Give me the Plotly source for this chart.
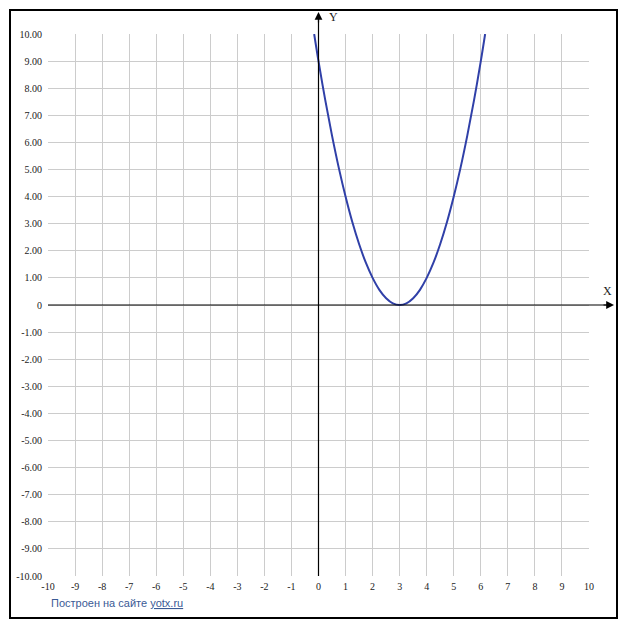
import plotly.graph_objects as go

# Curve points
curve_x = [-0.16, 0, 0.25, 0.5, 0.75, 1, 1.25, 1.5, 1.75, 2, 2.25, 2.5, 2.75, 3,
           3.25, 3.5, 3.75, 4, 4.25, 4.5, 4.75, 5, 5.25, 5.5, 5.75, 6, 6.16]
curve_y = [10, 9, 7.56, 6.25, 5.06, 4, 3.06, 2.25, 1.56, 1, 0.56, 0.25, 0.06, 0,
           0.06, 0.25, 0.56, 1, 1.56, 2.25, 3.06, 4, 5.06, 6.25, 7.56, 9, 10]

x_ticks = list(range(-10, 11))
x_tick_labels = [str(v) for v in x_ticks]
y_ticks = list(range(-10, 11))
y_tick_labels = ["0" if v == 0 else f"{v:.2f}" for v in y_ticks]

# page body has an 8px margin, so the figure is placed 8px in from the window corner
OFF = 8
W, H = 627 - OFF, 630 - OFF
L, R, T, B = 48 - OFF, 38, 34 - OFF, 54
pw, ph = W - L - R, H - T - B

def px(xp):
    return (xp - OFF - L) / pw

def py(yp):
    return (H - B - (yp - OFF)) / ph

fig = go.Figure()
fig.add_trace(go.Scatter(x=curve_x, y=curve_y, mode="lines",
                         line=dict(color="#3040a8", width=2, shape="spline"),
                         hoverinfo="skip", showlegend=False))

tick_font = dict(family="'Liberation Serif', 'Times New Roman', serif", size=10, color="#222")
fig.update_xaxes(range=[-10, 10], tickvals=x_ticks, ticktext=x_tick_labels,
                 showgrid=True, gridcolor="#cccccc", gridwidth=1, zeroline=False,
                 showline=False, ticks="outside", ticklen=1, tickcolor="rgba(0,0,0,0)",
                 tickfont=tick_font, fixedrange=True, automargin=False)
fig.update_yaxes(range=[-10, 10], tickvals=y_ticks, ticktext=y_tick_labels,
                 showgrid=True, gridcolor="#cccccc", gridwidth=1, zeroline=False,
                 showline=False, ticks="outside", ticklen=3, tickcolor="rgba(0,0,0,0)",
                 tickfont=tick_font, fixedrange=True, automargin=False)

shapes = [
    # outer frame
    dict(type="rect", xref="paper", yref="paper", x0=px(10), x1=px(617), y0=py(618), y1=py(10),
         line=dict(color="black", width=2)),
    # x axis line
    dict(type="line", xref="paper", yref="y", x0=0, x1=px(608), y0=0, y1=0,
         line=dict(color="black", width=1.2)),
    # y axis line
    dict(type="line", xref="x", yref="paper", x0=0, x1=0, y0=0, y1=py(18),
         line=dict(color="black", width=1.2)),
]

annotations = [
    dict(xref="paper", yref="y", x=px(614), y=0, ax=-12, ay=0, text="", showarrow=True,
         arrowhead=2, arrowsize=1.3, arrowwidth=1.2, arrowcolor="black"),
    dict(xref="x", yref="paper", x=0, y=py(12), ax=0, ay=12, text="", showarrow=True,
         arrowhead=2, arrowsize=1.3, arrowwidth=1.2, arrowcolor="black"),
    dict(xref="paper", yref="paper", x=px(607), y=py(291), text="X", showarrow=False,
         xanchor="center", yanchor="middle",
         font=dict(family="'Liberation Serif', serif", size=12, color="#222")),
    dict(xref="paper", yref="paper", x=px(333), y=py(17), text="Y", showarrow=False,
         xanchor="center", yanchor="middle",
         font=dict(family="'Liberation Serif', serif", size=12, color="#222")),
    dict(xref="paper", yref="paper", x=px(49), y=py(603), xanchor="left", yanchor="middle",
         text="Построен на сайте <u>yotx.ru</u>", showarrow=False,
         font=dict(family="'Liberation Sans', Arial, sans-serif", size=11, color="#3a5a95")),
]

fig.update_layout(width=W, height=H, margin=dict(l=L, r=R, t=T, b=B, autoexpand=False),
                  plot_bgcolor="white", paper_bgcolor="white",
                  shapes=shapes, annotations=annotations, showlegend=False)

fig.write_html("out.html")
